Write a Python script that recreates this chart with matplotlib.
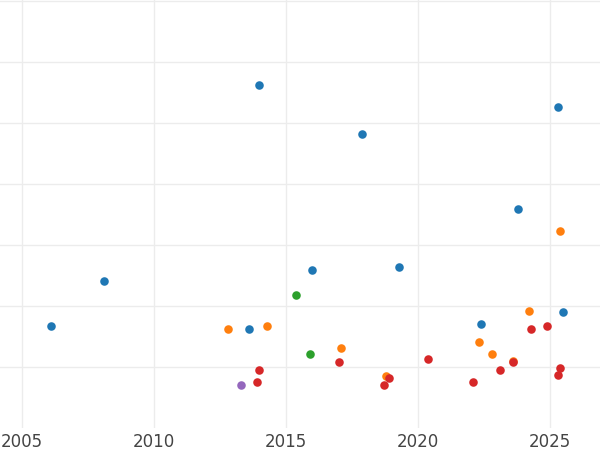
import matplotlib
matplotlib.use('Agg')
import matplotlib.pyplot as plt

# points: (year, value)
blue_x = [2006.1, 2008.1, 2014.0, 2013.6, 2017.9, 2016.0, 2019.3, 2022.4, 2023.8, 2025.3, 2025.5]
blue_y = [1.67, 2.41, 5.62, 1.61, 4.82, 2.59, 2.64, 1.70, 3.59, 5.26, 1.90]
orange_x = [2012.8, 2014.3, 2017.1, 2018.8, 2022.3, 2022.8, 2023.6, 2024.2, 2025.4]
orange_y = [1.62, 1.66, 1.31, 0.85, 1.41, 1.21, 1.10, 1.92, 3.23]
green_x = [2015.4, 2015.9]
green_y = [2.18, 1.21]
red_x = [2014.0, 2013.9, 2017.0, 2018.7, 2018.9, 2020.4, 2022.1, 2023.1, 2023.6, 2024.3, 2024.9, 2025.3, 2025.4]
red_y = [0.95, 0.74, 1.07, 0.69, 0.82, 1.12, 0.74, 0.95, 1.07, 1.62, 1.67, 0.87, 0.98]
purple_x = [2013.3]
purple_y = [0.69]

fig = plt.figure(figsize=(6, 4.5), dpi=100)
ax = fig.add_axes([0, 0.05, 1, 0.95])
for xs, ys, c in [(blue_x, blue_y, '#1f77b4'), (orange_x, orange_y, '#ff7f0e'),
                  (green_x, green_y, '#2ca02c'), (red_x, red_y, '#d62728'),
                  (purple_x, purple_y, '#9467bd')]:
    ax.scatter(xs, ys, s=38, color=c, zorder=3, linewidths=0)

ax.set_xlim(2004.17, 2026.9)
ax.set_ylim(0, 7.02)
ax.set_xticks([2005, 2010, 2015, 2020, 2025])
ax.set_yticks(range(1, 8))
ax.set_yticklabels([])
ax.tick_params(axis='y', length=0)
ax.tick_params(axis='x', length=0, labelsize=12, colors='#444444', pad=4)
ax.grid(True, color='#ececec', linewidth=1.0)
for s in ax.spines.values():
    s.set_visible(False)
fig.savefig('out.png')
